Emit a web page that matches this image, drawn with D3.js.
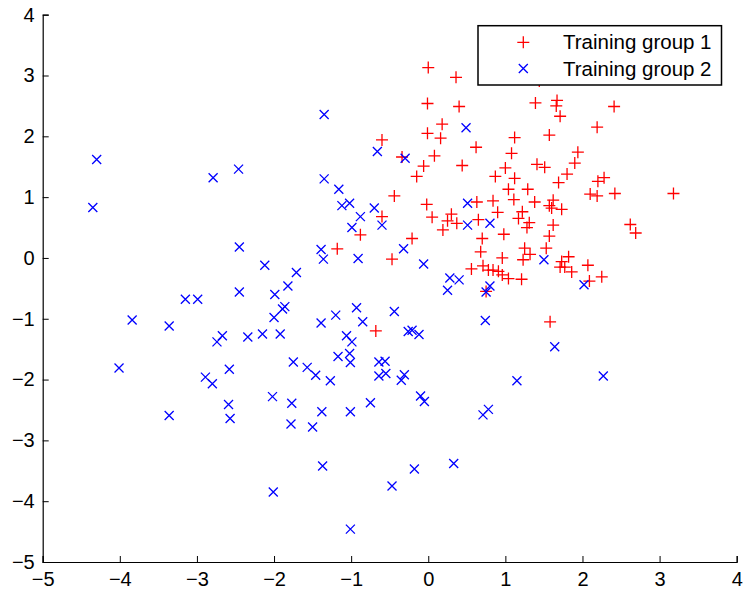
<!DOCTYPE html>
<html>
<head>
<meta charset="utf-8">
<script src="https://cdn.jsdelivr.net/npm/d3@7"></script>
<style>
  html, body { margin: 0; padding: 0; background: #fff; }
  svg { display: block; font-family: "Liberation Sans", Arial, Helvetica, sans-serif; }
</style>
</head>
<body>
<svg id="chart" width="745" height="592"></svg>
<script>
// ---- data ----
const group1X = [-0.44,-0.02,0.05,-0.60,-0.88,-1.18,-0.21,-0.47,-0.68,0.19,0.25,0.30,0.37,0.63,0.84,0.65,0.90,0.70,0.68,0.56,0.71,0.78,0.84,0.91,0.96,1.04,0.75,1.11,1.38,1.62,1.57,1.60,1.73,1.22,1.17,1.31,1.28,1.62,0.98,1.57,1.53,1.25,1.32,1.23,0.96,1.82,1.73,1.71,1.77,1.86,2.07,2.25,2.09,1.21,2.62,2.69,2.42,3.18,2.10,2.19,1.58,0.00,0.36,-0.01,0.40,0.18,-0.01,0.16,-0.60,0.62,-0.34,0.08,-0.06,0.44,-0.15,0.87,1.39,1.67,1.66,1.71,2.41,2.19,1.12,1.57,1.08,1.94,1.90,1.41,1.51,1.00,1.12,1.80,1.69,2.28,2.20,1.04,1.29,1.44];
const group1Y = [1.02,0.88,0.67,0.68,0.38,0.15,0.32,-0.02,-1.20,0.46,0.61,0.72,0.57,0.92,0.94,0.63,0.75,0.32,0.10,-0.18,-0.13,-0.20,-0.20,-0.22,-0.28,-0.34,-0.55,0.96,0.92,0.95,0.86,0.82,0.80,0.76,0.65,0.58,0.50,0.54,0.39,0.36,0.16,0.16,0.06,-0.03,0.00,0.02,-0.06,-0.15,-0.15,-0.23,-0.12,-0.31,-0.38,-0.35,0.55,0.41,1.06,1.06,1.05,1.02,-1.05,3.13,2.97,2.54,2.49,2.20,2.05,1.97,1.94,1.82,1.66,1.68,1.51,1.52,1.34,1.34,2.55,2.59,2.50,2.33,2.49,2.15,1.98,2.02,1.72,1.74,1.56,1.54,1.49,1.48,1.31,1.38,1.24,1.32,1.26,1.13,1.13,2.91];

const group2X = [-4.30,-2.79,-2.46,-4.35,-2.45,-2.12,-2.45,-3.15,-2.99,-3.84,-3.36,-2.74,-2.67,-2.34,-2.15,-4.01,-2.89,-2.58,-2.80,-2.59,-2.57,-3.36,-2.02,-2.01,-1.77,-1.78,-1.50,-1.38,-1.01,-0.75,-1.37,-1.01,-0.47,-0.18,0.33,-0.10,-0.05,0.71,0.78,-1.27,-0.64,-0.55,-0.35,-0.31,1.15,2.27,-1.16,-1.12,-1.02,-0.70,-0.88,-0.99,-0.60,-1.39,-1.36,-0.91,-0.32,-0.06,-1.71,-1.82,-1.99,-1.86,-1.89,-2.00,-1.92,-1.39,-1.20,-0.93,-0.85,-0.44,-1.06,-0.99,-0.26,-0.21,-0.12,-1.75,-1.57,-1.46,-1.17,-1.02,-1.01,-0.64,-0.56,0.51,0.51,0.80,0.28,0.40,0.25,0.80,0.75,0.74,1.50,2.02,1.64,-1.35,0.49,-0.66,-0.30,-1.35];
const group2Y = [1.62,1.32,1.46,0.83,0.18,-0.12,-0.56,-0.68,-0.68,-1.02,-1.12,-1.38,-1.28,-1.30,-1.25,-1.81,-1.96,-1.83,-2.07,-2.41,-2.64,-2.59,-2.28,-3.85,-2.39,-2.73,-2.78,-2.53,-2.53,-2.38,-3.42,-4.46,-3.75,-3.47,-3.38,-2.27,-2.36,-2.58,-2.49,-2.02,-1.94,-1.90,-2.01,-1.92,-2.02,-1.94,1.13,0.86,0.90,0.82,0.68,0.50,0.54,0.14,-0.02,-0.01,0.15,-0.10,-0.24,-0.46,-0.60,-0.80,-0.84,-0.98,-1.25,-1.07,-0.94,-0.82,-1.05,-0.88,-1.28,-1.38,-1.21,-1.19,-1.26,-1.71,-1.80,-1.93,-1.62,-1.57,-1.72,-1.71,-1.70,0.90,0.54,0.57,-0.33,-0.36,-0.53,-0.46,-0.56,-1.03,-0.03,-0.44,-1.46,2.36,2.14,1.75,1.64,1.30];

const xTicks = [-5,-4,-3,-2,-1,0,1,2,3,4];
const yTicks = [-5,-4,-3,-2,-1,0,1,2,3,4];
const legendLabels = ["Training group 1", "Training group 2"];

// ---- drawing ----
const svg = d3.select("#chart");
const x = d3.scaleLinear().domain([-5, 4]).range([42.7, 736.7]);
const y = d3.scaleLinear().domain([-5, 4]).range([562, 14.7]);
const fmt = d => (d < 0 ? "\u2212" + Math.abs(d) : String(d));

// axes
const xAxis = d3.axisBottom(x).tickValues(xTicks).tickSize(-6).tickPadding(0).tickFormat(fmt);
const yAxis = d3.axisLeft(y).tickValues(yTicks).tickSize(-6).tickPadding(8).tickFormat(fmt);

const gx = svg.append("g").attr("transform", `translate(0,${y(-5)})`).call(xAxis);
const gy = svg.append("g").attr("transform", `translate(${x(-5)},0)`).call(yAxis);
[gx, gy].forEach(g => {
  g.select(".domain").attr("stroke", "#000").attr("stroke-width", 1.2);
  g.selectAll(".tick line").attr("stroke", "#000").attr("stroke-width", 1);
  g.selectAll(".tick text").attr("fill", "#000").attr("font-size", 20)
    .attr("font-family", "'Liberation Sans', Arial, sans-serif");
});
gx.selectAll(".tick text").attr("y", 24).attr("dy", null);

// markers
const plus = (g, cx, cy, r, color) => {
  g.append("path").attr("d", `M${cx - r},${cy}H${cx + r}M${cx},${cy - r}V${cy + r}`)
    .attr("stroke", color).attr("stroke-width", 1.3).attr("fill", "none");
};
const cross = (g, cx, cy, r, color) => {
  g.append("path").attr("d", `M${cx - r},${cy - r}L${cx + r},${cy + r}M${cx - r},${cy + r}L${cx + r},${cy - r}`)
    .attr("stroke", color).attr("stroke-width", 1.3).attr("fill", "none");
};

const g1 = svg.append("g");
group1X.forEach((v, i) => plus(g1, x(v), y(group1Y[i]), 6, "#ff0000"));
const g2 = svg.append("g");
group2X.forEach((v, i) => cross(g2, x(v), y(group2Y[i]), 4.5, "#0000ff"));

// legend
const lg = svg.append("g");
lg.append("rect").attr("x", 478).attr("y", 25.7).attr("width", 243.5).attr("height", 59.3)
  .attr("fill", "#fff").attr("stroke", "#000").attr("stroke-width", 1.5);
plus(lg, 523.3, 42.3, 6, "#ff0000");
cross(lg, 523.3, 68.5, 4.5, "#0000ff");
legendLabels.forEach((t, i) => {
  lg.append("text").attr("x", 563).attr("y", 42.3 + i * 26.2).attr("dy", "0.35em")
    .attr("font-size", 20.5).attr("fill", "#000").text(t);
});
</script>
</body>
</html>
